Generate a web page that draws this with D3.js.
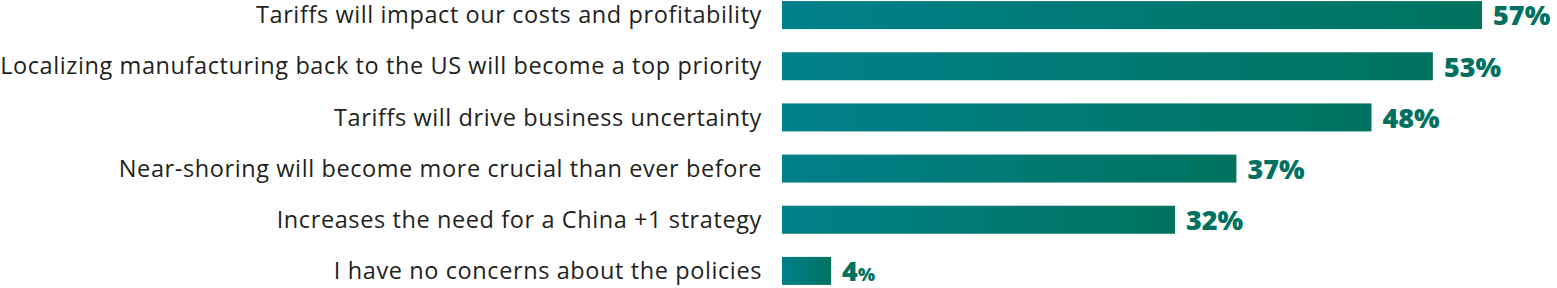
<!DOCTYPE html>
<html>
<head>
<meta charset="utf-8">
<script src="https://cdn.jsdelivr.net/npm/d3@7"></script>
<style>
  body { margin: 0; background: #fff; }
  .label { font-family: "Open Sans", sans-serif; font-size: 23.5px; letter-spacing: 0.6px; fill: #231f20; }
  .value { font-family: "Open Sans", sans-serif; font-size: 27px; font-weight: 800; fill: #00715f; }
</style>
</head>
<body>
<div id="chart"></div>
<script>
// statements and share of respondents
var categories = [
  "Tariffs will impact our costs and profitability",
  "Localizing manufacturing back to the US will become a top priority",
  "Tariffs will drive business uncertainty",
  "Near-shoring will become more crucial than ever before",
  "Increases the need for a China +1 strategy",
  "I have no concerns about the policies"
];
var values = [57, 53, 48, 37, 32, 4];

var width = 1557, height = 288;

var svg = d3.select("#chart")
  .append("svg")
    .attr("width", width)
    .attr("height", height);

// gradient per bar, teal on the left to green on the right
var grad = svg.append("defs").append("linearGradient")
    .attr("id", "barGrad")
    .attr("x1", "0%").attr("x2", "100%")
    .attr("y1", "0%").attr("y2", "0%");
grad.append("stop").attr("offset", "0%").attr("stop-color", "#00808a");
grad.append("stop").attr("offset", "100%").attr("stop-color", "#00735f");

var x = d3.scaleLinear()
  .domain([0, 57])
  .range([782, 1482]);

var y = d3.scaleBand()
  .domain(categories)
  .range([-22, 308])
  .padding(0.45);

var barH = 28;

var rows = svg.selectAll(".row")
  .data(categories)
  .enter().append("g")
    .attr("class", "row");

rows.append("rect")
  .attr("x", x(0))
  .attr("y", function(d) { return y(d) + (y.bandwidth() - barH) / 2; })
  .attr("height", barH)
  .attr("width", function(d, i) { return x(values[i]) - x(0); })
  .attr("fill", "url(#barGrad)");

rows.append("text")
  .attr("class", "label")
  .attr("x", 762)
  .attr("y", function(d) { return y(d) + y.bandwidth() / 2; })
  .attr("dy", "0.35em")
  .attr("text-anchor", "end")
  .text(function(d) { return d; });

var val = rows.append("text")
  .attr("class", "value")
  .attr("x", function(d, i) { return x(values[i]) + 11; })
  .attr("y", function(d) { return y(d) + y.bandwidth() / 2; })
  .attr("dy", "0.38em");

val.append("tspan").text(function(d, i) { return values[i]; });
val.append("tspan")
  .style("font-size", function(d, i) { return values[i] < 10 ? "18px" : null; })
  .text("%");
</script>
</body>
</html>
